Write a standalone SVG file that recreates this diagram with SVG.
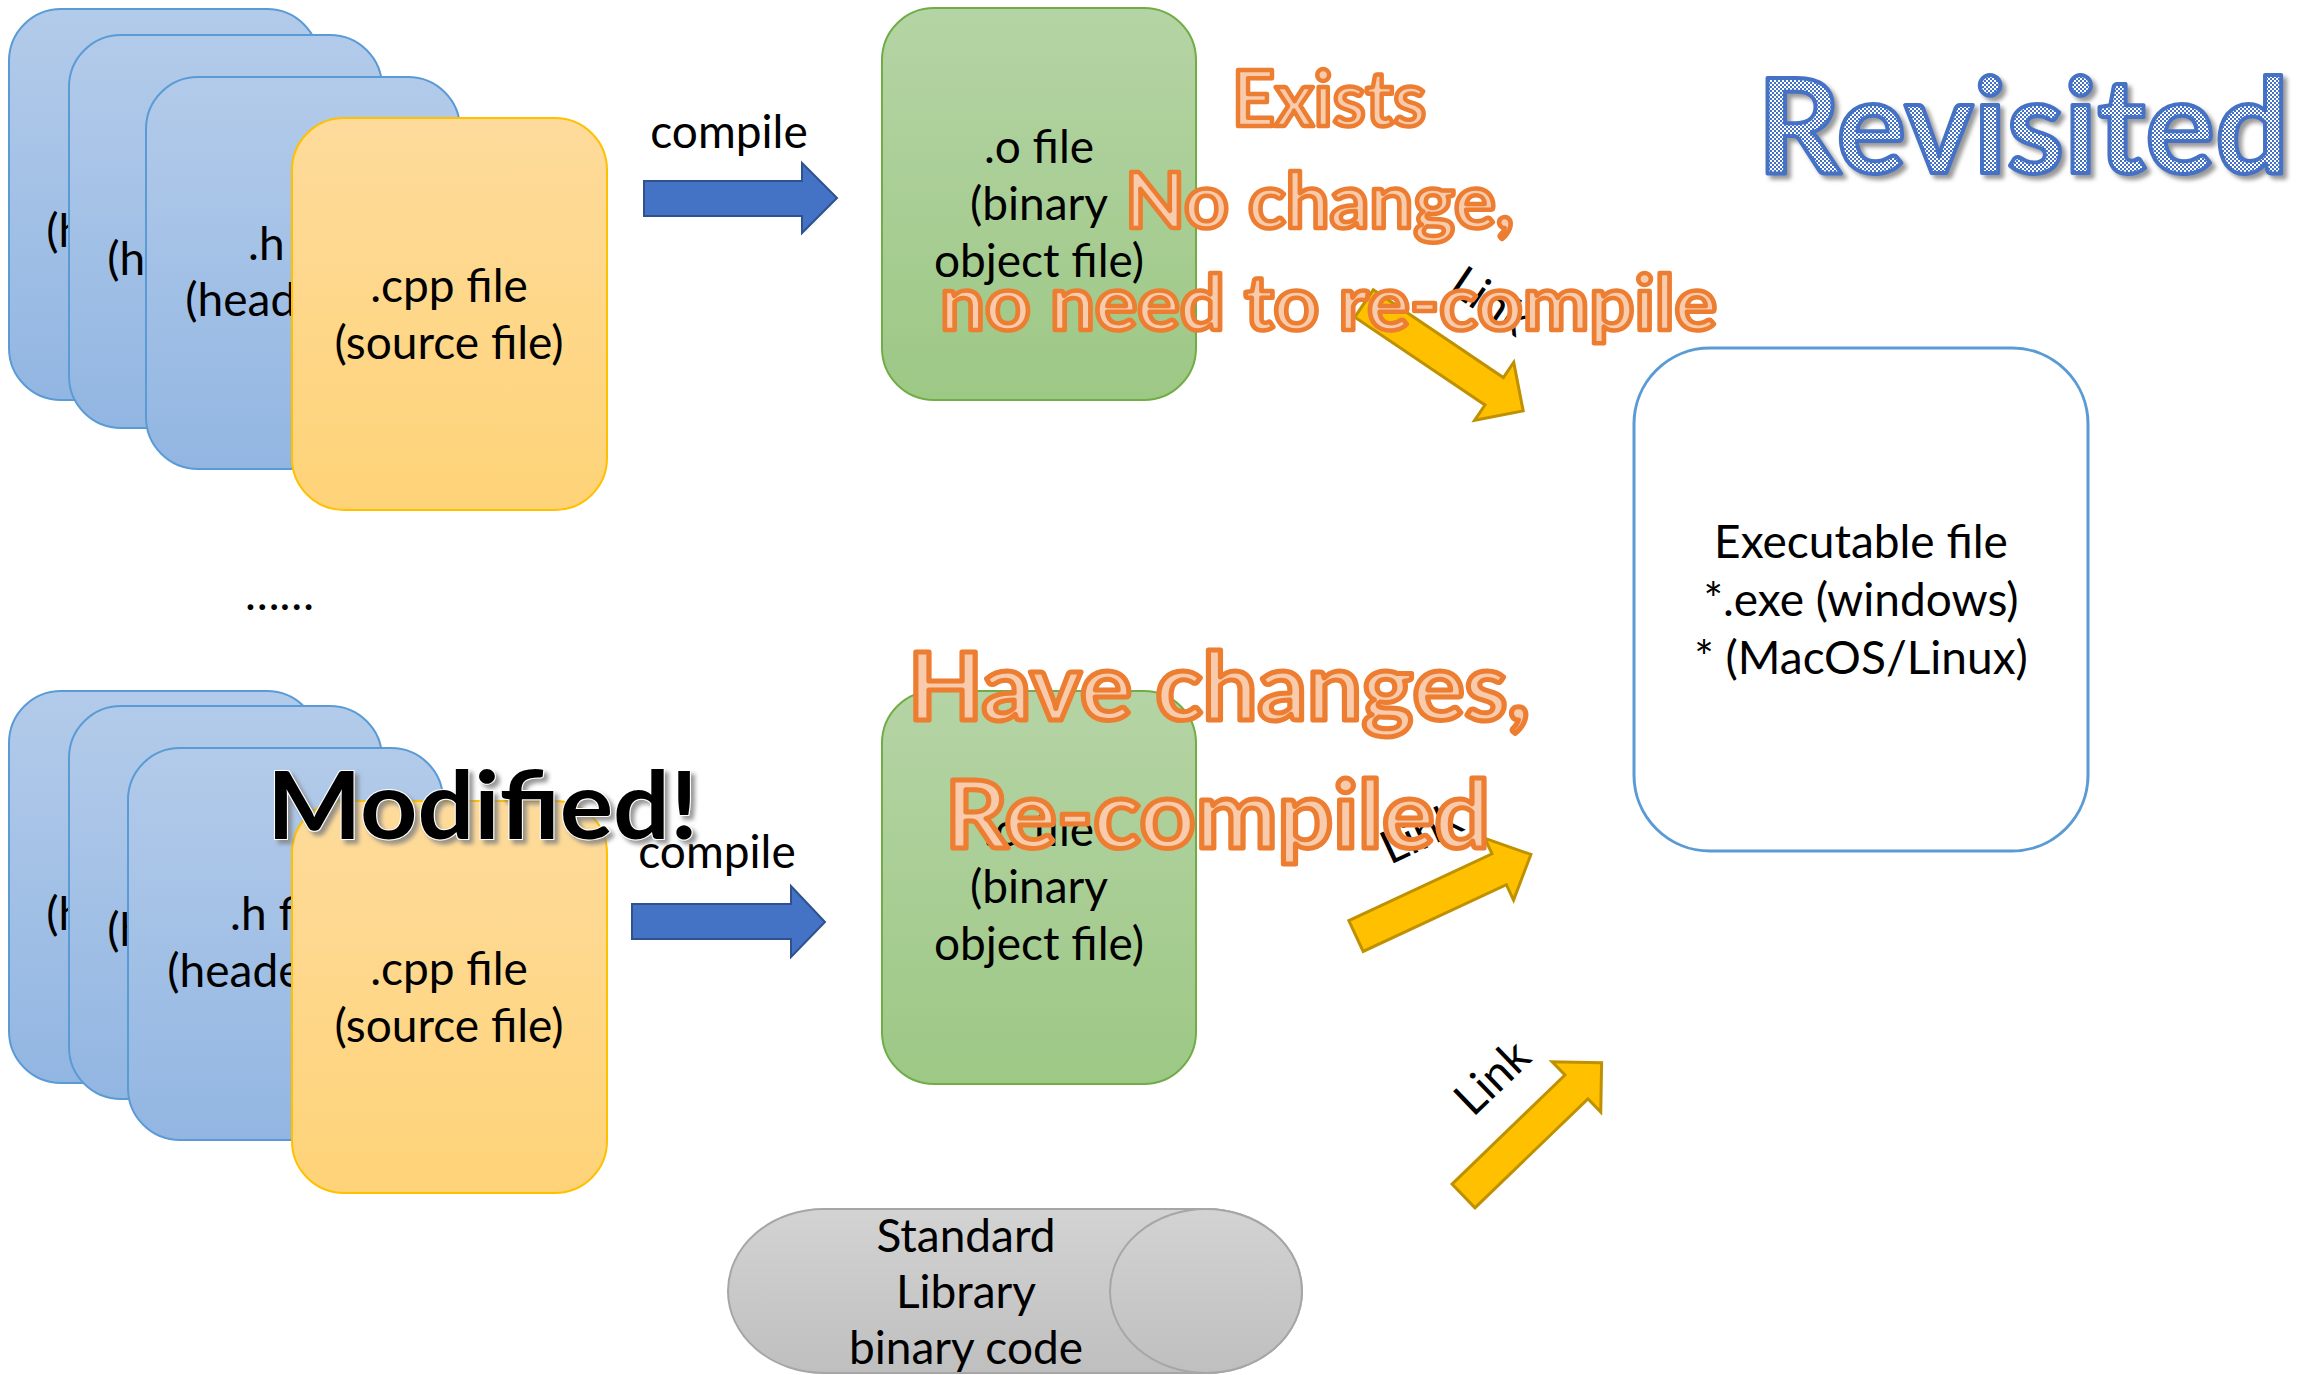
<svg xmlns="http://www.w3.org/2000/svg" width="2318" height="1375" viewBox="0 0 2318 1375">
<defs>
<linearGradient id="gBlue" x1="0" y1="0" x2="0" y2="1"><stop offset="0" stop-color="#B3CBEA"/><stop offset="1" stop-color="#92B6E2"/></linearGradient>
<linearGradient id="gYel" x1="0" y1="0" x2="0" y2="1"><stop offset="0" stop-color="#FEDB9B"/><stop offset="1" stop-color="#FED378"/></linearGradient>
<linearGradient id="gGrn" x1="0" y1="0" x2="0" y2="1"><stop offset="0" stop-color="#B5D4A5"/><stop offset="1" stop-color="#9DC885"/></linearGradient>
<linearGradient id="gGry" x1="0" y1="0" x2="0" y2="1"><stop offset="0" stop-color="#D3D3D3"/><stop offset="1" stop-color="#BFBFBF"/></linearGradient>
<pattern id="chk" width="4" height="4" patternUnits="userSpaceOnUse"><rect width="4" height="4" fill="#FFFFFF"/><rect width="2" height="2" fill="#4472C4"/><rect x="2" y="2" width="2" height="2" fill="#4472C4"/></pattern>
<filter id="shadow" x="-10%" y="-10%" width="130%" height="140%"><feDropShadow dx="4" dy="4" stdDeviation="2" flood-color="#7F7F7F" flood-opacity="0.8"/></filter>
<style>
.t{font-family:Lato,"Open Sans","Liberation Sans",sans-serif;font-size:46px;fill:#000;text-anchor:middle}
.tl{font-family:Lato,"Open Sans","Liberation Sans",sans-serif;font-size:46px;fill:#000}
.blue{fill:url(#gBlue);stroke:#5B9BD5;stroke-width:2}
.yel{fill:url(#gYel);stroke:#FFC000;stroke-width:2}
.grn{fill:url(#gGrn);stroke:#70AD47;stroke-width:2}
.barrow{fill:#4472C4;stroke:#2F528F;stroke-width:2}
.yarrow{fill:#FFC000;stroke:#BF9000;stroke-width:3}
.orange{font-family:Lato,"Open Sans","Liberation Sans",sans-serif;font-weight:bold;font-size:76px;fill:#F8CBAD;stroke:#ED7D31;stroke-width:4.5;stroke-linejoin:round}
.big{font-family:Lato,"Open Sans","Liberation Sans",sans-serif;font-weight:bold;font-size:94px;fill:#F8CBAD;stroke:#ED7D31;stroke-width:5;stroke-linejoin:round}
</style>
</defs>
<rect width="2318" height="1375" fill="#FFFFFF"/>

<g id="top-header-1"><rect class="blue" x="9" y="9" width="310" height="391" rx="52"/><text class="t" x="164" y="190">.h file</text><text class="t" x="164" y="247">(header file)</text></g>
<g id="top-header-2"><rect class="blue" x="69" y="35" width="313" height="393" rx="52"/><text class="t" x="225" y="218">.h file</text><text class="t" x="225" y="275">(header file)</text></g>
<g id="top-header-3"><rect class="blue" x="146" y="77" width="314" height="392" rx="52"/><text class="t" x="303" y="260">.h file</text><text class="t" x="303" y="316">(header file)</text></g>
<g id="top-cpp"><rect class="yel" x="292" y="118" width="315" height="392" rx="52"/><text class="t" x="449" y="302">.cpp file</text><text class="t" x="449" y="359">(source file)</text></g>

<g id="ellipsis"><text class="tl" x="245" y="610">……</text></g>

<g id="bot-header-1"><rect class="blue" x="9" y="691" width="310" height="392" rx="52"/><text class="t" x="164" y="873">.h file</text><text class="t" x="164" y="930">(header file)</text></g>
<g id="bot-header-2"><rect class="blue" x="69" y="706" width="313" height="393" rx="52"/><text class="t" x="225" y="889">.h file</text><text class="t" x="225" y="946">(header file)</text></g>
<g id="bot-header-3"><rect class="blue" x="128" y="748" width="315" height="392" rx="52"/><text class="t" x="285" y="930">.h file</text><text class="t" x="285" y="987">(header file)</text></g>
<g id="bot-cpp"><rect class="yel" x="292" y="801" width="315" height="392" rx="52"/><text class="t" x="449" y="985">.cpp file</text><text class="t" x="449" y="1042">(source file)</text></g>

<g id="top-obj"><rect class="grn" x="882" y="8" width="314" height="392" rx="52"/><text class="t" x="1039" y="163">.o file</text><text class="t" x="1039" y="220">(binary</text><text class="t" x="1039" y="277">object file)</text></g>
<g id="bot-obj"><rect class="grn" x="882" y="691" width="314" height="393" rx="52"/><text class="t" x="1039" y="846">.o file</text><text class="t" x="1039" y="903">(binary</text><text class="t" x="1039" y="960">object file)</text></g>

<g id="executable"><rect x="1634" y="348" width="454" height="503" rx="76" fill="#FFFFFF" stroke="#5B9BD5" stroke-width="3"/><text class="t" x="1861" y="558">Executable file</text><text class="t" x="1861" y="616">*.exe (windows)</text><text class="t" x="1861" y="674">* (MacOS/Linux)</text></g>

<g id="stdlib"><path d="M824 1209 L1206 1209 A96 82 0 0 1 1206 1373 L824 1373 A96 82 0 0 1 824 1209 Z" fill="url(#gGry)" stroke="#A6A6A6" stroke-width="2"/><ellipse cx="1206" cy="1291" rx="96" ry="82" fill="url(#gGry)" stroke="#A6A6A6" stroke-width="2"/><text class="t" x="966" y="1252">Standard</text><text class="t" x="966" y="1308">Library</text><text class="t" x="966" y="1364">binary code</text></g>

<g id="connectors">
<polygon class="barrow" points="644,181 802,181 802,163 837,198 802,233 802,216 644,216"/>
<text class="t" x="729" y="148">compile</text>
<polygon class="barrow" points="632,904 791,904 791,886 825,922 791,957 791,939 632,939"/>
<text class="t" x="717" y="868">compile</text>
<text class="tl" transform="translate(1447 291) rotate(34)">Link</text>
<polygon class="yarrow" transform="translate(1364 303.5) rotate(34)" points="0,-16.5 157,-16.5 157,-35 192,0 157,35 157,16.5 0,16.5"/>
<text class="tl" transform="translate(1390 865) rotate(-25)">Link</text>
<polygon class="yarrow" transform="translate(1356 936) rotate(-25)" points="0,-17 158,-17 158,-34 193,0 158,34 158,17 0,17"/>
<text class="tl" transform="translate(1473 1118) rotate(-44)">Link</text>
<polygon class="yarrow" transform="translate(1463.5 1196) rotate(-44)" points="0,-16.5 157,-16.5 157,-35 192,0 157,35 157,16.5 0,16.5"/>
</g>

<g id="annotations">
<text class="orange" x="1232" y="126" textLength="194" lengthAdjust="spacingAndGlyphs">Exists</text>
<text class="orange" x="1125" y="228" textLength="389" lengthAdjust="spacingAndGlyphs">No change,</text>
<text class="orange" x="940" y="330" textLength="777" lengthAdjust="spacingAndGlyphs">no need to re-compile</text>
<text class="big" x="908" y="720" textLength="622" lengthAdjust="spacingAndGlyphs">Have changes,</text>
<text class="big" x="945" y="848" textLength="545" lengthAdjust="spacingAndGlyphs">Re-compiled</text>
<text x="267" y="839" textLength="431" lengthAdjust="spacingAndGlyphs" filter="url(#shadow)" style="font-family:Lato,'Open Sans','Liberation Sans',sans-serif;font-weight:bold;font-size:94px;fill:#000;stroke:#FFFFFF;stroke-width:2;paint-order:stroke">Modified!</text>
<text x="1757" y="173" textLength="532" lengthAdjust="spacingAndGlyphs" filter="url(#shadow)" style="font-family:Lato,'Open Sans','Liberation Sans',sans-serif;font-weight:bold;font-size:132px;fill:url(#chk);stroke:#4472C4;stroke-width:4;stroke-linejoin:round">Revisited</text>
</g>
</svg>
